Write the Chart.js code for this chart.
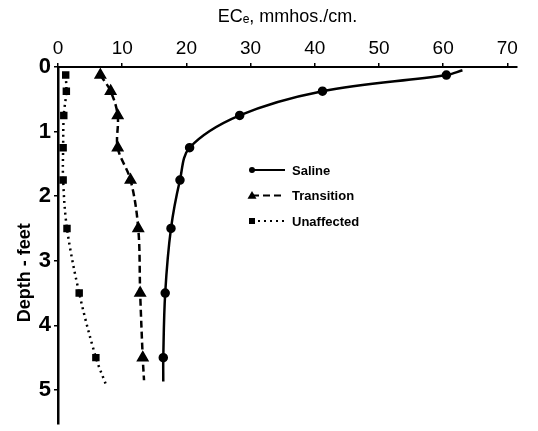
<!DOCTYPE html>
<html>
<head>
<meta charset="utf-8">
<script src="https://cdn.jsdelivr.net/npm/chart.js@4.4.1/dist/chart.umd.min.js"></script>
<style>
  html, body { margin: 0; padding: 0; background: #fff; }
  #wrap { width: 538px; height: 431px; }
</style>
</head>
<body>
<div id="wrap"><canvas id="ec" width="538" height="431"></canvas></div>
<script>
// depths (feet) where samples were taken
const depths = [0.125, 0.375, 0.75, 1.25, 1.75, 2.5, 3.5, 4.5];

// ECe readings, mmhos/cm
const saline = [60.5, 41.2, 28.3, 20.5, 19.0, 17.6, 16.7, 16.4];
const transition = [6.6, 8.2, 9.3, 9.3, 11.3, 12.5, 12.8, 13.2];
const unaffected = [1.2, 1.3, 0.9, 0.8, 0.8, 1.4, 3.3, 5.9];

// where each drawn curve runs past the markers: [EC, depth]
const salineStart = [63, 0.05];
const salineEnd = [16.4, 4.87];
const transitionEnd = [13.4, 4.85];
const unaffectedEnd = [7.4, 4.9];

const xTicks = [0, 10, 20, 30, 40, 50, 60, 70];
const yTicks = [0, 1, 2, 3, 4, 5];

const seriesNames = ['Saline', 'Transition', 'Unaffected'];

function pts(vals, start, end) {
    const out = vals.map((v, i) => ({ x: v, y: depths[i] }));
    if (start) out.unshift({ x: start[0], y: start[1] });
    if (end) out.push({ x: end[0], y: end[1] });
    return out;
}
function radii(n, start, end, r) {
    const out = new Array(n).fill(r);
    if (start) out.unshift(0);
    if (end) out.push(0);
    return out;
}

const FONT = '"Liberation Sans", Arial, sans-serif';
const noPad = s => { s.getPadding = () => ({ left: 0, top: 0, right: 0, bottom: 0 }); };

const legendInside = {
    id: 'legendInside',
    afterDraw(chart) {
        const ctx = chart.ctx;
        ctx.save();
        chart.data.datasets.forEach((ds, i) => {
            const y = 170 + i * 25.5;
            const x0 = 252;
            ctx.strokeStyle = '#000';
            ctx.fillStyle = '#000';
            ctx.lineWidth = 2;
            ctx.setLineDash(ds.borderDash || []);
            ctx.beginPath();
            ctx.moveTo(x0, y);
            ctx.lineTo(x0 + 33, y);
            ctx.stroke();
            ctx.setLineDash([]);
            const r = ds.legendR;
            if (ds.pointStyle === 'circle') {
                ctx.beginPath();
                ctx.arc(x0, y, r, 0, Math.PI * 2);
                ctx.fill();
            } else if (ds.pointStyle === 'triangle') {
                ctx.beginPath();
                ctx.moveTo(x0, y - r);
                ctx.lineTo(x0 + r, y + r * 0.7);
                ctx.lineTo(x0 - r, y + r * 0.7);
                ctx.closePath();
                ctx.fill();
            } else {
                ctx.fillRect(x0 - r, y - r, r * 2, r * 2);
            }
            ctx.font = 'bold 13px ' + FONT;
            ctx.textBaseline = 'middle';
            ctx.fillText(seriesNames[i], x0 + 40, y + 1);
        });
        ctx.restore();
    }
};

new Chart(document.getElementById('ec'), {
    type: 'scatter',
    data: {
        datasets: [{
            label: seriesNames[0],
            data: pts(saline, salineStart, salineEnd),
            showLine: true,
            borderColor: '#000',
            backgroundColor: '#000',
            borderWidth: 2.5,
            pointStyle: 'circle',
            pointRadius: radii(saline.length, salineStart, salineEnd, 3.5),
            legendR: 3,
            tension: 0.35
        }, {
            label: seriesNames[1],
            data: pts(transition, null, transitionEnd),
            showLine: true,
            borderColor: '#000',
            backgroundColor: '#000',
            borderWidth: 2.5,
            borderDash: [7, 4],
            pointStyle: 'triangle',
            pointRadius: radii(transition.length, null, transitionEnd, 5),
            legendR: 4.5,
            tension: 0.35
        }, {
            label: seriesNames[2],
            data: pts(unaffected, null, unaffectedEnd),
            showLine: true,
            borderColor: '#000',
            backgroundColor: '#000',
            borderWidth: 2.5,
            borderDash: [2, 4],
            pointStyle: 'rect',
            pointRadius: radii(unaffected.length, null, unaffectedEnd, 3.5),
            legendR: 3,
            tension: 0.35
        }]
    },
    options: {
        responsive: false,
        animation: false,
        devicePixelRatio: 1,
        layout: { padding: { left: 0, top: 6, right: 21, bottom: 0 } },
        plugins: {
            legend: { display: false },
            tooltip: { enabled: false }
        },
        scales: {
            x: {
                type: 'linear',
                position: 'top',
                min: 0,
                max: 71.5,
                afterBuildTicks: s => { s.ticks = xTicks.map(v => ({ value: v })); },
                afterFit: s => { s.height = 61; noPad(s); },
                ticks: {
                    color: '#000',
                    font: { family: FONT, size: 19 },
                    padding: 3
                },
                grid: { drawOnChartArea: false, drawTicks: true, tickLength: 4, color: '#000', lineWidth: 1.5 },
                border: { color: '#000', width: 2 },
                title: {
                    display: true,
                    text: 'ECₑ, mmhos./cm.',
                    color: '#000',
                    font: { family: FONT, size: 18 },
                    padding: { top: 0, bottom: 2 }
                }
            },
            y: {
                type: 'linear',
                reverse: true,
                min: 0,
                max: 5.52,
                afterBuildTicks: s => { s.ticks = yTicks.map(v => ({ value: v })); },
                afterFit: s => { s.width = 58; noPad(s); },
                ticks: {
                    color: '#000',
                    font: { family: FONT, size: 22, weight: 'bold' },
                    padding: 3
                },
                grid: { drawOnChartArea: false, drawTicks: true, tickLength: 4, color: '#000', lineWidth: 1.5 },
                border: { color: '#000', width: 2.5 },
                title: {
                    display: true,
                    text: 'Depth - feet' + '\u00a0'.repeat(11),
                    color: '#000',
                    font: { family: FONT, size: 18, weight: 'bold' },
                    padding: { top: 14, bottom: 0 }
                }
            }
        }
    },
    plugins: [legendInside]
});
</script>
</body>
</html>
